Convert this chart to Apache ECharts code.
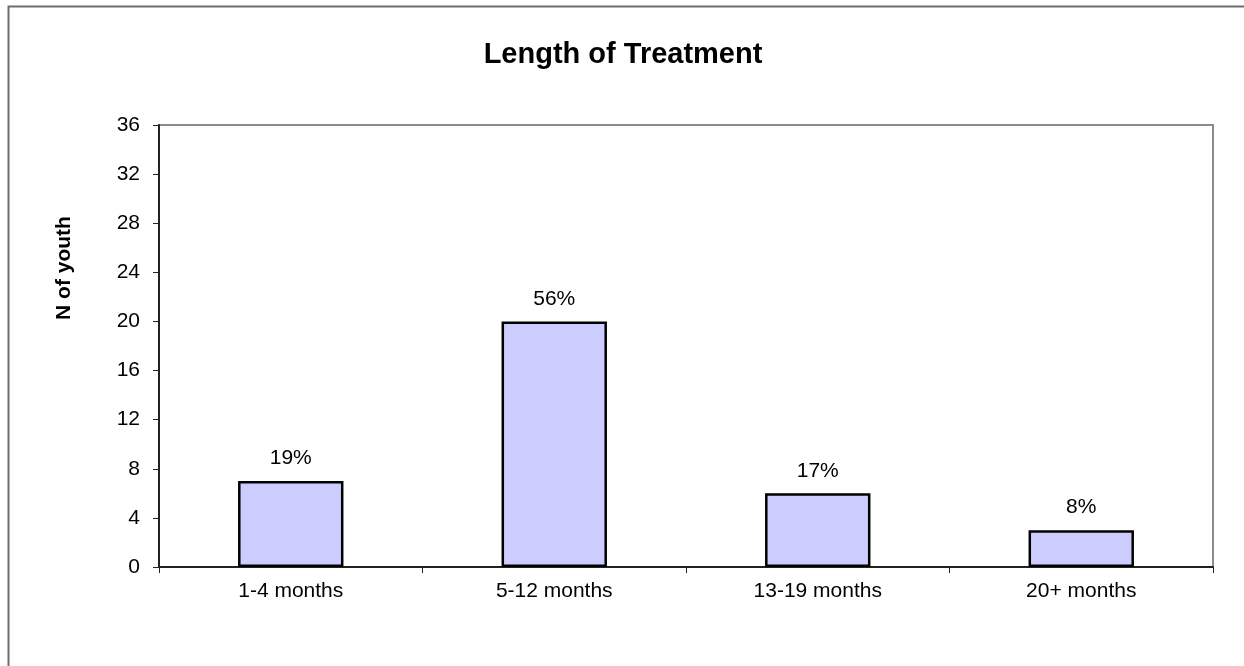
<!DOCTYPE html>
<html>
<head>
<meta charset="utf-8">
<script src="https://cdn.jsdelivr.net/npm/echarts@6/dist/echarts.min.js"></script>
<style>
  html, body { margin: 0; padding: 0; background: #fff; }
  #main { width: 1244px; height: 666px; }
</style>
</head>
<body>
<div id="main"></div>
<script>
  // chart data
  const categories = ['1-4 months', '5-12 months', '13-19 months', '20+ months']
  const counts = [7, 20, 6, 3]
  const percents = ['19%', '56%', '17%', '8%']
  const yTicks = { min: 0, max: 36, step: 4 }

  const font = '"Liberation Sans", Arial, sans-serif'
  const chart = echarts.init(document.getElementById('main'))

  chart.setOption({
    animation: false,
    textStyle: { fontFamily: font },
    title: {
      text: 'Length of Treatment',
      left: 618,
      top: 35,
      textAlign: 'center',
      textStyle: { fontSize: 29, fontWeight: 'bold', color: '#000', fontFamily: font }
    },
    graphic: [
      {
        type: 'rect',
        shape: { x: 8.5, y: 6.5, width: 1300, height: 800 },
        style: { fill: 'none', stroke: '#6e6e6e', lineWidth: 2 },
        z: -1
      },
      {
        type: 'text',
        x: 64,
        y: 268,
        rotation: Math.PI / 2,
        style: {
          text: 'N of youth',
          font: 'bold 21px ' + font,
          fill: '#000',
          textAlign: 'center',
          textVerticalAlign: 'middle'
        }
      }
    ],
    grid: {
      left: 159,
      right: 31,
      top: 125,
      bottom: 99,
      show: true,
      borderColor: '#8c8c8c',
      borderWidth: 2,
      backgroundColor: 'transparent'
    },
    xAxis: {
      type: 'category',
      data: categories,
      axisLine: { lineStyle: { color: '#222', width: 2 } },
      axisTick: { show: true, alignWithLabel: false, length: 6, lineStyle: { color: '#222', width: 1 } },
      axisLabel: { fontSize: 21, color: '#000', margin: 14, fontFamily: font }
    },
    yAxis: {
      type: 'value',
      min: yTicks.min,
      max: yTicks.max,
      interval: yTicks.step,
      splitLine: { show: false },
      axisLine: { show: true, lineStyle: { color: '#222', width: 2 } },
      axisTick: { show: true, length: 6, lineStyle: { color: '#222', width: 1 } },
      axisLabel: { fontSize: 21, color: '#000', margin: 19, fontFamily: font }
    },
    series: [
      {
        type: 'bar',
        data: counts,
        barWidth: '40%',
        itemStyle: { color: '#CCCCFF', borderColor: '#000', borderWidth: 2.5 },
        label: {
          show: true,
          position: 'top',
          distance: 12,
          fontSize: 21,
          color: '#000',
          fontFamily: font,
          formatter: p => percents[p.dataIndex]
        }
      }
    ]
  })
</script>
</body>
</html>
